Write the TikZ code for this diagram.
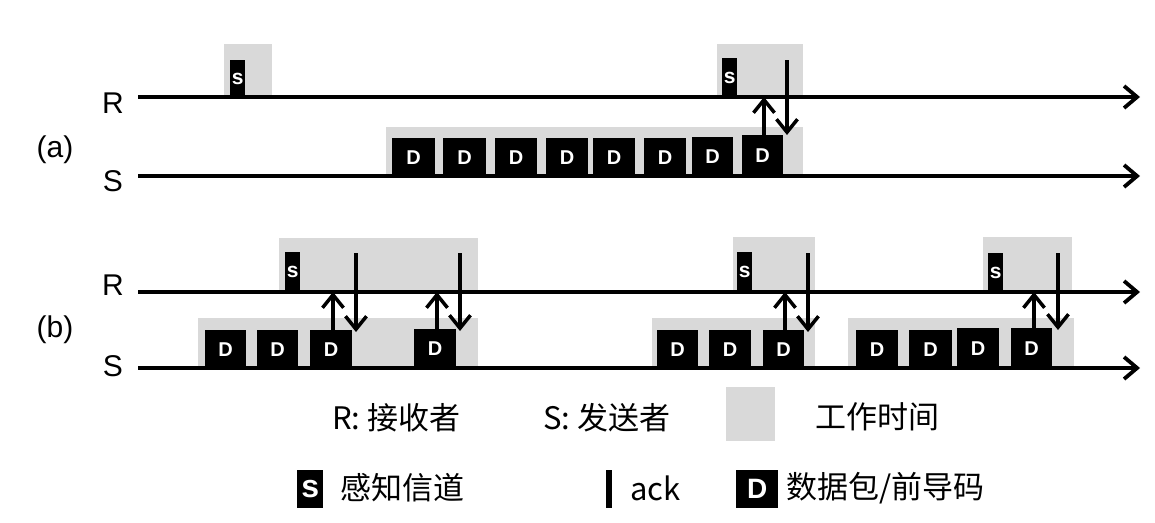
\documentclass[tikz,border=0pt]{standalone}
\usepackage{fontspec}
\setmainfont{Liberation Sans}
\newfontfamily\cjk{Noto Sans CJK SC}
\usetikzlibrary{arrows.meta}
\definecolor{workgray}{RGB}{217,217,217}
\newcommand\mkblk[6]{%
  \pgfmathsetmacro\blkw{#4-#2}\pgfmathsetmacro\blkh{#5-#3}%
  \node[blk,anchor=north west,minimum width=\blkw pt,minimum height=\blkh pt] (#1) at (#2,#3) {#6};}
\begin{document}
\begin{tikzpicture}[x=1pt,y=-1pt,
  work/.style={fill=workgray},
  axis/.style={line width=3.8pt,-{Straight Barb[length=13pt,width=22pt,line width=3.8pt]}},
  sig/.style={line width=3.5pt,-{Straight Barb[length=13pt,width=21pt,line width=3.5pt]}},
  blk/.style={fill=black,text=white,inner sep=0pt,font=\bfseries\fontsize{20}{20}\selectfont},
  ackbar/.style={line width=4.5pt},
  lab/.style={font=\fontsize{30}{30}\selectfont,inner sep=0pt},
  leg/.style={font=\cjk\fontsize{31}{31}\selectfont,inner sep=0pt,anchor=west},
]
\useasboundingbox (0,0) rectangle (1155,522);
\fill[white] (0,0) rectangle (1155,522);

% ---------------- (a) ----------------
\fill[work] (224,44) rectangle (272,97);
\fill[work] (717,44) rectangle (803,97);
\fill[work] (386,127) rectangle (803,176);

\coordinate (Ra0) at (138,97);  \coordinate (Ra1) at (1140,97);
\coordinate (Sa0) at (138,176); \coordinate (Sa1) at (1140,176);
\draw[axis] (Ra0) -- (Ra1);
\draw[axis] (Sa0) -- (Sa1);

\node[lab] (labRa) at (113,103) {R};
\node[lab] (labSa) at (113,181) {S};
\node[lab] (laba) at (55,150) {(a)};

\mkblk{sa1}{230}{60}{245}{97}{\fontsize{21}{21}\selectfont s}
\mkblk{sa2}{722}{58}{737}{97}{\fontsize{21}{21}\selectfont s}
\mkblk{a1}{392}{138}{435}{176}{D}
\mkblk{a2}{443}{138}{486}{176}{D}
\mkblk{a3}{495}{138}{537}{176}{D}
\mkblk{a4}{546}{138}{588}{176}{D}
\mkblk{a5}{593}{138}{635}{176}{D}
\mkblk{a6}{644}{138}{686}{176}{D}
\mkblk{a7}{692}{137}{733}{176}{D}
\mkblk{a8}{742}{135}{783}{176}{D}

\coordinate (ka1t) at (787,60); \coordinate (ka1b) at (787,97);
\draw[ackbar] (ka1t) -- (ka1b);
\coordinate (ua1) at (764,97);
\draw[sig] (ua1 |- a8.north) -- (ua1);
\draw[sig] (ka1b) -- (ka1b |- a8.north);

% ---------------- (b) ----------------
\fill[work] (279,238) rectangle (478,292);
\fill[work] (198,318) rectangle (478,368);
\fill[work] (733,237) rectangle (815,292);
\fill[work] (652,318) rectangle (815,368);
\fill[work] (983,237) rectangle (1072,292);
\fill[work] (848,318) rectangle (1074,368);

\coordinate (Rb0) at (138,292); \coordinate (Rb1) at (1140,292);
\coordinate (Sb0) at (138,368); \coordinate (Sb1) at (1140,368);
\draw[axis] (Rb0) -- (Rb1);
\draw[axis] (Sb0) -- (Sb1);

\node[lab] (labRb) at (113,285) {R};
\node[lab] (labSb) at (113,366) {S};
\node[lab] (labb) at (55,330) {(b)};

\mkblk{sb1}{285}{252}{300}{292}{\fontsize{21}{21}\selectfont s}
\mkblk{sb2}{737}{252}{752}{292}{\fontsize{21}{21}\selectfont s}
\mkblk{sb3}{988}{253}{1003}{292}{\fontsize{21}{21}\selectfont s}

\mkblk{b1}{205}{330}{246}{368}{D}
\mkblk{b2}{257}{330}{298}{368}{D}
\mkblk{b3}{310}{330}{352}{368}{D}
\mkblk{b4}{414}{329}{456}{368}{D}
\mkblk{b5}{657}{330}{698}{368}{D}
\mkblk{b6}{709}{330}{751}{368}{D}
\mkblk{b7}{763}{330}{804}{368}{D}
\mkblk{b8}{856}{330}{898}{368}{D}
\mkblk{b9}{909}{330}{952}{368}{D}
\mkblk{b10}{957}{328}{999}{368}{D}
\mkblk{b11}{1011}{328}{1052}{368}{D}

\coordinate (kb1t) at (356,253); \coordinate (kb1b) at (356,292);
\coordinate (kb2t) at (460,253); \coordinate (kb2b) at (460,292);
\coordinate (kb3t) at (808,253); \coordinate (kb3b) at (808,292);
\coordinate (kb4t) at (1058,253); \coordinate (kb4b) at (1058,292);
\draw[ackbar] (kb1t) -- (kb1b);
\draw[ackbar] (kb2t) -- (kb2b);
\draw[ackbar] (kb3t) -- (kb3b);
\draw[ackbar] (kb4t) -- (kb4b);

\coordinate (ub1) at (333,292);
\coordinate (ub2) at (437,292);
\coordinate (ub3) at (785,292);
\coordinate (ub4) at (1034,292);
\draw[sig] (ub1 |- b3.north) -- (ub1);
\draw[sig] (ub2 |- b4.north) -- (ub2);
\draw[sig] (ub3 |- b7.north) -- (ub3);
\draw[sig] (ub4 |- b11.north) -- (ub4);
\draw[sig] (kb1b) -- ([yshift=-2pt]kb1b |- b3.north);
\draw[sig] (kb2b) -- ([yshift=-2pt]kb2b |- b4.north);
\draw[sig] (kb3b) -- ([yshift=-2pt]kb3b |- b7.north);
\draw[sig] (kb4b) -- ([yshift=-2pt]kb4b |- b11.north);

% ---------------- legend ----------------
\node[leg] (tR) at (332,418) {R: 接收者};
\node[leg] (tS) at (543,418) {S: 发送者};
\fill[work] (726,387) rectangle (775,441);
\node[leg] (tW) at (815,417) {工作时间};

\mkblk{ls}{297}{470}{323}{508}{\fontsize{32}{32}\selectfont s}
\node[leg] (tsense) at (340,488) {感知信道};
\coordinate (lkt) at (609,470); \coordinate (lkb) at (609,508);
\draw[line width=6pt] (lkt) -- (lkb);
\node[leg] (tack) at (630,488) {ack};
\mkblk{lD}{736}{470}{778}{508}{\fontsize{28}{28}\selectfont D}
\node[leg] (tdata) at (786,488) {数据包/前导码};
\end{tikzpicture}
\end{document}
